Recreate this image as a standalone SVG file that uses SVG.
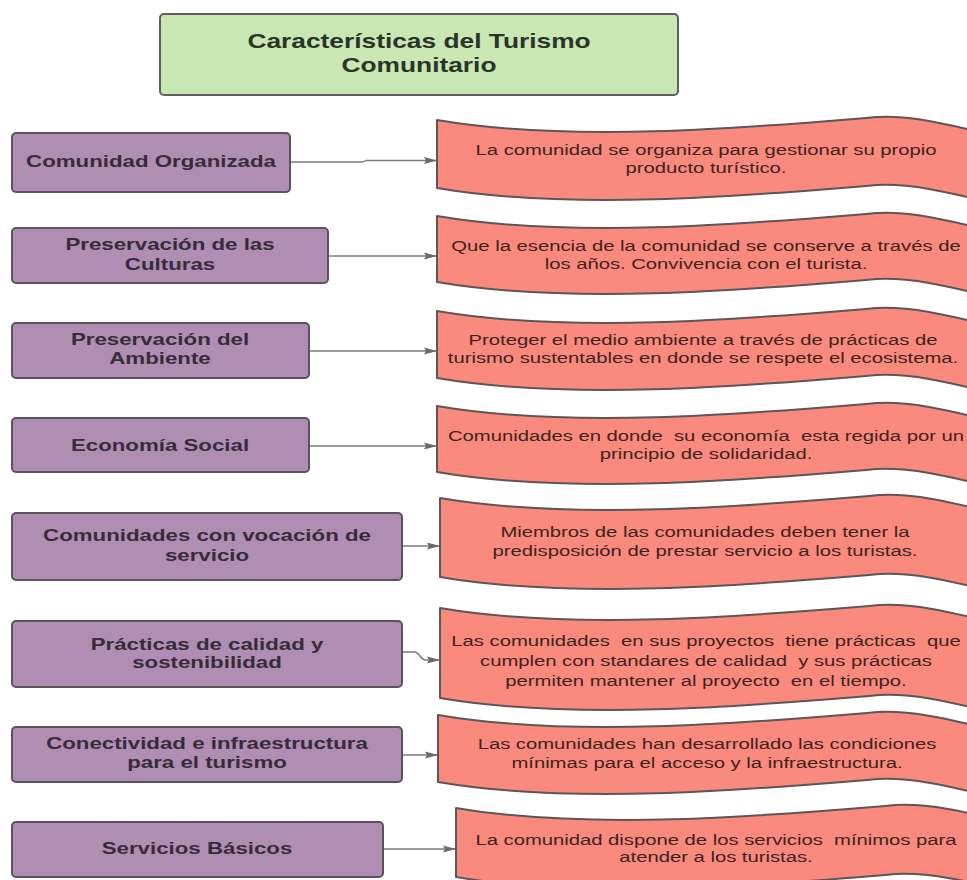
<svg xmlns="http://www.w3.org/2000/svg" width="967" height="880" viewBox="0 0 967 880">
<style>
.bg{fill:#ffffff}
.title{fill:#c8e7b3;stroke:#5f5f5f;stroke-width:2}
.box{fill:#b08db3;stroke:#5b525d;stroke-width:2}
.wave{fill:#fa8a7d;stroke:#5e5656;stroke-width:2;stroke-linejoin:round}
.tt{font-family:"Liberation Sans",Arial,sans-serif;font-weight:bold;font-size:19.5px;fill:#2a3427;text-anchor:middle}
.lt{font-family:"Liberation Sans",Arial,sans-serif;font-weight:bold;font-size:16.5px;fill:#372c3a;text-anchor:middle}
.rt{font-family:"Liberation Sans",Arial,sans-serif;font-size:15px;fill:#3e2321;text-anchor:middle;white-space:pre}
.con{fill:none;stroke:#7a7a7a;stroke-width:1.5}
</style>
<defs>
<marker id="arr" markerUnits="userSpaceOnUse" markerWidth="13" markerHeight="8" refX="13" refY="4" orient="auto">
<path d="M0,0.5 L13,4 L0,7.5 L2,4 Z" fill="#6a6a6a"/>
</marker>
</defs>
<rect class="bg" x="0" y="0" width="967" height="880"/>

<g id="title">
<rect class="title" x="160" y="14" width="518" height="81" rx="4"/>
<text class="tt" transform="translate(419,0) scale(1.35,1)"><tspan x="0" y="48">Características del Turismo</tspan><tspan x="0" y="72">Comunitario</tspan></text>
</g>

<g id="connectors">
<path class="con" d="M290,162 H361 Q364,162 366,160.5 H437" marker-end="url(#arr)"/>
<path class="con" d="M328,256 H437" marker-end="url(#arr)"/>
<path class="con" d="M309,351 H437" marker-end="url(#arr)"/>
<path class="con" d="M309,446 H437" marker-end="url(#arr)"/>
<path class="con" d="M402,546 H440" marker-end="url(#arr)"/>
<path class="con" d="M402,652 H414 C420,652 420,660 426,660 H440" marker-end="url(#arr)"/>
<path class="con" d="M402,755 H438" marker-end="url(#arr)"/>
<path class="con" d="M383,849 H456" marker-end="url(#arr)"/>
</g>

<g id="n1">
<rect class="box" x="12" y="133" width="278" height="59" rx="4"/>
<text class="lt" transform="translate(151,0) scale(1.35,1)"><tspan x="0" y="167">Comunidad Organizada</tspan></text>
</g>
<g id="n2">
<rect class="box" x="12" y="228" width="316" height="55" rx="4"/>
<text class="lt" transform="translate(170,0) scale(1.35,1)"><tspan x="0" y="250">Preservación de las</tspan><tspan x="0" y="270">Culturas</tspan></text>
</g>
<g id="n3">
<rect class="box" x="12" y="323" width="297" height="55" rx="4"/>
<text class="lt" transform="translate(160,0) scale(1.35,1)"><tspan x="0" y="345">Preservación del</tspan><tspan x="0" y="364">Ambiente</tspan></text>
</g>
<g id="n4">
<rect class="box" x="12" y="418" width="297" height="54" rx="4"/>
<text class="lt" transform="translate(160,0) scale(1.35,1)"><tspan x="0" y="451">Economía Social</tspan></text>
</g>
<g id="n5">
<rect class="box" x="12" y="513" width="390" height="67" rx="4"/>
<text class="lt" transform="translate(207,0) scale(1.35,1)"><tspan x="0" y="541">Comunidades con vocación de</tspan><tspan x="0" y="561">servicio</tspan></text>
</g>
<g id="n6">
<rect class="box" x="12" y="621" width="390" height="66" rx="4"/>
<text class="lt" transform="translate(207,0) scale(1.35,1)"><tspan x="0" y="650">Prácticas de calidad y</tspan><tspan x="0" y="668">sostenibilidad</tspan></text>
</g>
<g id="n7">
<rect class="box" x="12" y="727" width="390" height="55" rx="4"/>
<text class="lt" transform="translate(207,0) scale(1.35,1)"><tspan x="0" y="749">Conectividad e infraestructura</tspan><tspan x="0" y="768">para el turismo</tspan></text>
</g>
<g id="n8">
<rect class="box" x="12" y="822" width="371" height="55" rx="4"/>
<text class="lt" transform="translate(197,0) scale(1.35,1)"><tspan x="0" y="854">Servicios Básicos</tspan></text>
</g>

<g id="d1">
<path class="wave" transform="translate(437,120)" d="M0,0 C140,24 330,6 440,-3 C480,-5 525,8 560,16 L560,84 C525,76 480,63 440,65 C330,74 140,92 0,68 Z"/>
<text class="rt" transform="translate(706,0) scale(1.35,1)"><tspan x="0" y="155">La comunidad se organiza para gestionar su propio</tspan><tspan x="0" y="173">producto turístico.</tspan></text>
</g>
<g id="d2">
<path class="wave" transform="translate(437,216)" d="M0,0 C140,24 330,6 440,-3 C480,-5 525,8 560,16 L560,82 C525,74 480,61 440,63 C330,72 140,90 0,66 Z"/>
<text class="rt" transform="translate(706,0) scale(1.35,1)"><tspan x="0" y="251">Que la esencia de la comunidad se conserve a través de</tspan><tspan x="0" y="269">los años. Convivencia con el turista.</tspan></text>
</g>
<g id="d3">
<path class="wave" transform="translate(437,311)" d="M0,0 C140,24 330,6 440,-3 C480,-5 525,8 560,16 L560,83 C525,75 480,62 440,64 C330,73 140,91 0,67 Z"/>
<text class="rt" transform="translate(703,0) scale(1.35,1)"><tspan x="0" y="345">Proteger el medio ambiente a través de prácticas de</tspan><tspan x="0" y="363">turismo sustentables en donde se respete el ecosistema.</tspan></text>
</g>
<g id="d4">
<path class="wave" transform="translate(437,406)" d="M0,0 C140,24 330,6 440,-3 C480,-5 525,8 560,16 L560,82 C525,74 480,61 440,63 C330,72 140,90 0,66 Z"/>
<text class="rt" transform="translate(706,0) scale(1.35,1)"><tspan x="0" y="441">Comunidades en donde  su economía  esta regida por un</tspan><tspan x="0" y="459">principio de solidaridad.</tspan></text>
</g>
<g id="d5">
<path class="wave" transform="translate(440,498)" d="M0,0 C140,24 330,6 440,-3 C480,-5 525,8 560,16 L560,95 C525,87 480,74 440,76 C330,85 140,103 0,79 Z"/>
<text class="rt" transform="translate(705,0) scale(1.35,1)"><tspan x="0" y="537">Miembros de las comunidades deben tener la</tspan><tspan x="0" y="556">predisposición de prestar servicio a los turistas.</tspan></text>
</g>
<g id="d6">
<path class="wave" transform="translate(440,608)" d="M0,0 C140,24 330,6 440,-3 C480,-5 525,8 560,16 L560,106 C525,98 480,85 440,87 C330,96 140,114 0,90 Z"/>
<text class="rt" transform="translate(706,0) scale(1.35,1)"><tspan x="0" y="646">Las comunidades  en sus proyectos  tiene prácticas  que</tspan><tspan x="0" y="666">cumplen con standares de calidad  y sus prácticas</tspan><tspan x="0" y="686">permiten mantener al proyecto  en el tiempo.</tspan></text>
</g>
<g id="d7">
<path class="wave" transform="translate(438,715)" d="M0,0 C140,24 330,6 440,-3 C480,-5 525,8 560,16 L560,83 C525,75 480,62 440,64 C330,73 140,91 0,67 Z"/>
<text class="rt" transform="translate(707,0) scale(1.35,1)"><tspan x="0" y="749">Las comunidades han desarrollado las condiciones</tspan><tspan x="0" y="768">mínimas para el acceso y la infraestructura.</tspan></text>
</g>
<g id="d8">
<path class="wave" transform="translate(456,808)" d="M0,0 C140,24 330,6 440,-3 C480,-5 525,8 560,16 L560,85 C525,77 480,64 440,66 C330,75 140,93 0,69 Z"/>
<text class="rt" transform="translate(716,0) scale(1.35,1)"><tspan x="0" y="845">La comunidad dispone de los servicios  mínimos para</tspan><tspan x="0" y="862">atender a los turistas.</tspan></text>
</g>
</svg>
